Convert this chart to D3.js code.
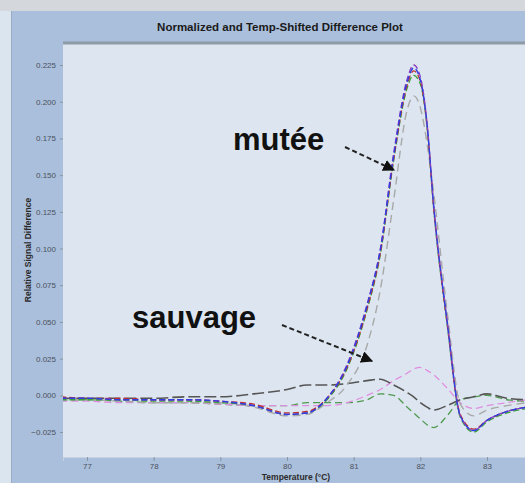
<!DOCTYPE html>
<html>
<head>
<meta charset="utf-8">
<script src="https://cdn.jsdelivr.net/npm/d3@7"></script>
<style>
  html, body { margin: 0; padding: 0; background: #dde6f0; }
  svg { display: block; }
</style>
</head>
<body>
<svg id="chart" width="525" height="483"></svg>
<script>
// Temperature sample points (°C)
const temps = [76.6, 77.0, 77.5, 78.0, 78.5, 79.0, 79.5, 80.0, 80.3, 80.6, 80.9, 81.2, 81.4,
               81.6, 81.8, 81.9, 82.0, 82.1, 82.2, 82.4, 82.6, 82.8, 83.0, 83.3, 83.6];

// Mutant group (large melting difference peak)
const mutBlue   = [-0.002, -0.002, -0.003, -0.003, -0.003, -0.004, -0.007, -0.013, -0.012, -0.002, 0.020, 0.061, 0.099,
                   0.163, 0.213, 0.223, 0.215, 0.185, 0.129, 0.051, -0.014, -0.024, -0.017, -0.011, -0.008];
const mutRed    = [-0.001, -0.002, -0.002, -0.003, -0.003, -0.004, -0.006, -0.012, -0.011, -0.002, 0.019, 0.059, 0.097,
                   0.161, 0.211, 0.221, 0.214, 0.184, 0.128, 0.050, -0.013, -0.023, -0.017, -0.011, -0.008];
const mutGreen  = [-0.003, -0.003, -0.003, -0.004, -0.004, -0.005, -0.007, -0.013, -0.012, -0.003, 0.018, 0.058, 0.096,
                   0.160, 0.209, 0.218, 0.212, 0.183, 0.127, 0.049, -0.015, -0.025, -0.018, -0.012, -0.009];
const mutPurple = [-0.002, -0.002, -0.003, -0.003, -0.003, -0.004, -0.007, -0.013, -0.012, -0.002, 0.021, 0.062, 0.100,
                   0.165, 0.215, 0.225, 0.217, 0.186, 0.130, 0.052, -0.014, -0.024, -0.017, -0.011, -0.008];
const mutGrey   = [-0.003, -0.003, -0.004, -0.005, -0.005, -0.005, -0.008, -0.014, -0.013, -0.005, 0.007, 0.034, 0.072,
                   0.133, 0.194, 0.204, 0.196, 0.172, 0.138, 0.058, -0.006, -0.014, -0.010, -0.007, -0.005];

// Wild-type group (near the baseline)
const wtBlack = [-0.002, -0.002, -0.002, -0.002, -0.001, -0.001, 0.001, 0.004, 0.007, 0.007, 0.008, 0.010, 0.011,
                 0.007, 0.002, -0.001, -0.005, -0.008, -0.010, -0.007, -0.003, -0.001, 0.001, -0.002, -0.003];
const wtPink  = [-0.004, -0.004, -0.005, -0.005, -0.005, -0.006, -0.007, -0.007, -0.007, -0.007, -0.005, 0.000, 0.004,
                 0.010, 0.015, 0.018, 0.019, 0.017, 0.014, 0.005, -0.005, -0.009, -0.007, -0.005, -0.003];
const wtGreen = [-0.003, -0.003, -0.004, -0.005, -0.005, -0.006, -0.007, -0.007, -0.005, -0.005, -0.005, -0.003, 0.001,
                 0.000, -0.008, -0.012, -0.016, -0.020, -0.022, -0.014, -0.003, -0.001, 0.000, -0.003, -0.004];

const xTicks = [77, 78, 79, 80, 81, 82, 83];
const yTicks = [-0.025, 0.000, 0.025, 0.050, 0.075, 0.100, 0.125, 0.150, 0.175, 0.200, 0.225];

const titleText = "Normalized and Temp-Shifted Difference Plot";
const xTitle = "Temperature (°C)";
const yTitle = "Relative Signal Difference";

const series = [
  { values: wtGreen,   color: "#4f9a4f", dash: "7,4",  width: 1.3 },
  { values: wtPink,    color: "#e08ee0", dash: "7,4",  width: 1.3 },
  { values: wtBlack,   color: "#555555", dash: "12,4", width: 1.6 },
  { values: mutGrey,   color: "#a8a8a8", dash: "8,5",  width: 1.4 },
  { values: mutGreen,  color: "#3aa03a", dash: "6,3",  width: 1.3 },
  { values: mutRed,    color: "#c03030", dash: "6,3",  width: 1.3 },
  { values: mutPurple, color: "#8a3fc0", dash: "6,3",  width: 1.3 },
  { values: mutBlue,   color: "#2f3fe0", dash: "6,3",  width: 1.4 }
];

const svg = d3.select("#chart");
const font = "Liberation Sans, Arial, sans-serif";

// Window chrome and panel
svg.append("rect").attr("x", 0).attr("y", 0).attr("width", 525).attr("height", 483).attr("fill", "#dbe5f0");
svg.append("rect").attr("x", 0).attr("y", 0).attr("width", 525).attr("height", 11).attr("fill", "#d4d8dd");
svg.append("rect").attr("x", 12).attr("y", 11).attr("width", 513).attr("height", 472).attr("fill", "#aabfdb");
svg.append("line").attr("x1", 11.5).attr("x2", 11.5).attr("y1", 11).attr("y2", 483).attr("stroke", "#9aabc4");

const plot = { left: 63, top: 43, right: 525, bottom: 457 };

const x = d3.scaleLinear().domain([76.64, 83.57]).range([plot.left, plot.right]);
const y = d3.scaleLinear().domain([-0.042, 0.240]).range([plot.bottom, plot.top]);

svg.append("rect")
  .attr("x", plot.left).attr("y", plot.top)
  .attr("width", plot.right - plot.left).attr("height", plot.bottom - plot.top)
  .attr("fill", "#dde6f0");
svg.append("line")
  .attr("x1", plot.left).attr("x2", plot.right).attr("y1", plot.top).attr("y2", plot.top)
  .attr("stroke", "#8e9aa6").attr("stroke-width", 3);

// Title
svg.append("text")
  .attr("x", 280).attr("y", 31)
  .attr("text-anchor", "middle")
  .attr("font-family", font)
  .attr("font-size", 11.5).attr("font-weight", "bold").attr("fill", "#1a1a1a")
  .text(titleText);

// Axes
const yAxis = d3.axisLeft(y).tickValues(yTicks).tickFormat(d3.format(".3f")).tickSize(3).tickPadding(4);
const gy = svg.append("g").attr("transform", `translate(${plot.left},0)`).call(yAxis);
gy.select(".domain").remove();
gy.selectAll("line").attr("stroke", "#8a96a4");
gy.selectAll("text").attr("font-family", font)
  .attr("font-size", 8).attr("fill", "#4a5260");

const xAxis = d3.axisBottom(x).tickValues(xTicks).tickFormat(d3.format("d")).tickSize(4).tickPadding(2);
const gx = svg.append("g").attr("transform", `translate(0,${plot.bottom})`).call(xAxis);
gx.select(".domain").attr("stroke", "#c6d2e0");
gx.selectAll("line").attr("stroke", "#8a96a4");
gx.selectAll("text").attr("font-family", font)
  .attr("font-size", 8).attr("fill", "#4a5260");

svg.append("text")
  .attr("x", 296).attr("y", 480)
  .attr("text-anchor", "middle")
  .attr("font-family", font)
  .attr("font-size", 8.5).attr("font-weight", "bold").attr("fill", "#2a2a2a")
  .text(xTitle);

svg.append("text")
  .attr("transform", "translate(31,250) rotate(-90)")
  .attr("text-anchor", "middle")
  .attr("font-family", font)
  .attr("font-size", 8.5).attr("font-weight", "bold").attr("fill", "#2a2a2a")
  .text(yTitle);

// Curves
svg.append("clipPath").attr("id", "plotclip").append("rect")
  .attr("x", plot.left).attr("y", plot.top + 2)
  .attr("width", plot.right - plot.left).attr("height", plot.bottom - plot.top - 2);

const line = d3.line()
  .x((d, i) => x(temps[i]))
  .y(d => y(d))
  .curve(d3.curveMonotoneX);

const curves = svg.append("g").attr("clip-path", "url(#plotclip)");
series.forEach(s => {
  curves.append("path")
    .datum(s.values)
    .attr("d", line)
    .attr("fill", "none")
    .attr("stroke", s.color)
    .attr("stroke-width", s.width)
    .attr("stroke-dasharray", s.dash);
});

// Annotations
svg.append("defs").append("marker")
  .attr("id", "head").attr("viewBox", "0 0 10 10")
  .attr("refX", 9).attr("refY", 5)
  .attr("markerWidth", 6).attr("markerHeight", 6)
  .attr("orient", "auto")
  .append("path").attr("d", "M0,0 L10,5 L0,10 Z").attr("fill", "#111");

const notes = [
  { text: "mutée",   tx: 233, ty: 150, from: [345, 147], to: [394, 170] },
  { text: "sauvage", tx: 132, ty: 328, from: [282, 325], to: [372, 361] }
];
notes.forEach(n => {
  svg.append("text")
    .attr("x", n.tx).attr("y", n.ty)
    .attr("font-family", font)
    .attr("font-size", 31).attr("font-weight", "bold").attr("fill", "#111")
    .text(n.text);
  svg.append("line")
    .attr("x1", n.from[0]).attr("y1", n.from[1])
    .attr("x2", n.to[0]).attr("y2", n.to[1])
    .attr("stroke", "#222").attr("stroke-width", 2)
    .attr("stroke-dasharray", "5,3")
    .attr("marker-end", "url(#head)");
});
</script>
</body>
</html>
